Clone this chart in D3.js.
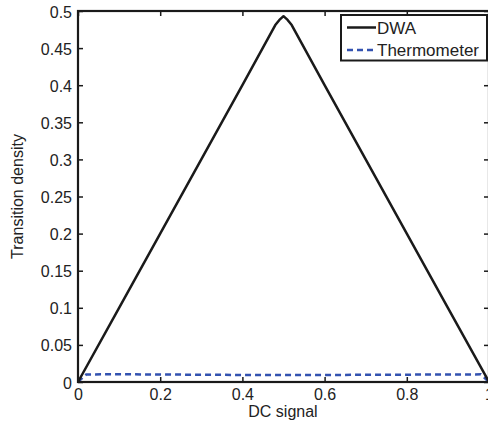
<!DOCTYPE html>
<html>
<head>
<meta charset="utf-8">
<script src="https://cdn.jsdelivr.net/npm/d3@7"></script>
<style>
  html, body { margin: 0; padding: 0; background: #fff; }
  svg { display: block; }
  text { font-family: "Liberation Sans", Arial, Helvetica, sans-serif; fill: #222; }
</style>
</head>
<body>
<svg id="chart" width="488" height="433"></svg>
<script>
// DC input level (x) and transition density for each mismatch-shaping scheme
const dwaX = [0, 0.1, 0.2, 0.3, 0.4, 0.48, 0.49, 0.5, 0.51, 0.52, 0.6, 0.7, 0.8, 0.9, 1];
const dwaY = [0, 0.1, 0.2, 0.3, 0.4, 0.481, 0.488, 0.493, 0.488, 0.481, 0.4, 0.3, 0.2, 0.1, 0];

const thermoX = [0, 0.02, 0.1, 0.2, 0.3, 0.4, 0.5, 0.6, 0.7, 0.8, 0.9, 0.98, 1];
const thermoY = [0, 0.0102, 0.0104, 0.0101, 0.0098, 0.0095, 0.0094, 0.0095, 0.0097, 0.0099, 0.0101, 0.0103, 0];

const xTicks = [0, 0.2, 0.4, 0.6, 0.8, 1];
const yTicks = [0, 0.05, 0.1, 0.15, 0.2, 0.25, 0.3, 0.35, 0.4, 0.45, 0.5];

const seriesNames = ["DWA", "Thermometer"];

const svg = d3.select("#chart");
const plotL = 78, plotR = 489, plotT = 11, plotB = 382;

const x = d3.scaleLinear().domain([0, 1]).range([plotL, plotR]);
const y = d3.scaleLinear().domain([0, 0.5]).range([plotB, plotT]);

const fmt = d => (d === 0 ? "0" : d === 1 ? "1" : String(+d.toFixed(2)));

// Axes with inward ticks
const xAxis = d3.axisBottom(x).tickValues(xTicks).tickSizeInner(-5).tickSizeOuter(0).tickPadding(7).tickFormat(fmt);
const yAxis = d3.axisLeft(y).tickValues(yTicks).tickSizeInner(-5).tickSizeOuter(0).tickPadding(6).tickFormat(fmt);
const xTop = d3.axisTop(x).tickValues(xTicks).tickSizeInner(-5).tickSizeOuter(0).tickFormat("");
const yRight = d3.axisRight(y).tickValues(yTicks).tickSizeInner(-5).tickSizeOuter(0).tickFormat("");

function styleAxis(g) {
  g.select(".domain").remove();
  g.selectAll(".tick line").attr("stroke", "#1a1a1a").attr("stroke-width", 1.5);
  g.selectAll(".tick text").attr("font-size", 16).attr("fill", "#222")
    .style("font-family", '"Liberation Sans", Arial, sans-serif');
}

svg.append("g").attr("transform", `translate(0,${plotB})`).call(xAxis).call(styleAxis);
svg.append("g").attr("transform", `translate(${plotL},0)`).call(yAxis).call(styleAxis)
  .selectAll(".tick text").attr("dy", "0.38em");
svg.append("g").attr("transform", `translate(0,${plotT})`).call(xTop).call(styleAxis);
svg.append("g").attr("transform", `translate(${plotR},0)`).call(yRight).call(styleAxis);

// Lines
const line = d3.line().x(d => x(d[0])).y(d => y(d[1]));

svg.append("path")
  .datum(thermoX.map((v, i) => [v, thermoY[i]]))
  .attr("d", line)
  .attr("fill", "none")
  .attr("stroke", "#3352b0")
  .attr("stroke-width", 2.5)
  .attr("stroke-dasharray", "6,4");

svg.append("path")
  .datum(dwaX.map((v, i) => [v, dwaY[i]]))
  .attr("d", line)
  .attr("fill", "none")
  .attr("stroke", "#1a1a1a")
  .attr("stroke-width", 2.5)
  .attr("stroke-linejoin", "round");

// Axes box
svg.append("rect")
  .attr("x", plotL).attr("y", plotT)
  .attr("width", plotR - plotL).attr("height", plotB - plotT)
  .attr("fill", "none").attr("stroke", "#1a1a1a").attr("stroke-width", 2.2);

// Axis labels
svg.append("text")
  .attr("x", 283).attr("y", 417)
  .attr("text-anchor", "middle").attr("font-size", 16)
  .text("DC signal");

svg.append("text")
  .attr("transform", `translate(23,${(plotT + plotB) / 2}) rotate(-90)`)
  .attr("text-anchor", "middle").attr("font-size", 16)
  .text("Transition density");

// Legend
const lg = svg.append("g");
lg.append("rect")
  .attr("x", 341).attr("y", 15).attr("width", 146).attr("height", 45.5)
  .attr("fill", "#fff").attr("stroke", "#1a1a1a").attr("stroke-width", 2);

const legendStyles = [
  { color: "#1a1a1a", dash: null },
  { color: "#3352b0", dash: "6,4" }
];
seriesNames.forEach((name, i) => {
  const ly = 27.5 + i * 22.5;
  lg.append("line")
    .attr("x1", 347).attr("x2", 376).attr("y1", ly).attr("y2", ly)
    .attr("stroke", legendStyles[i].color).attr("stroke-width", 2.5)
    .attr("stroke-dasharray", legendStyles[i].dash);
  lg.append("text")
    .attr("x", 377).attr("y", ly + 6)
    .attr("font-size", 17)
    .text(name);
});
</script>
</body>
</html>
